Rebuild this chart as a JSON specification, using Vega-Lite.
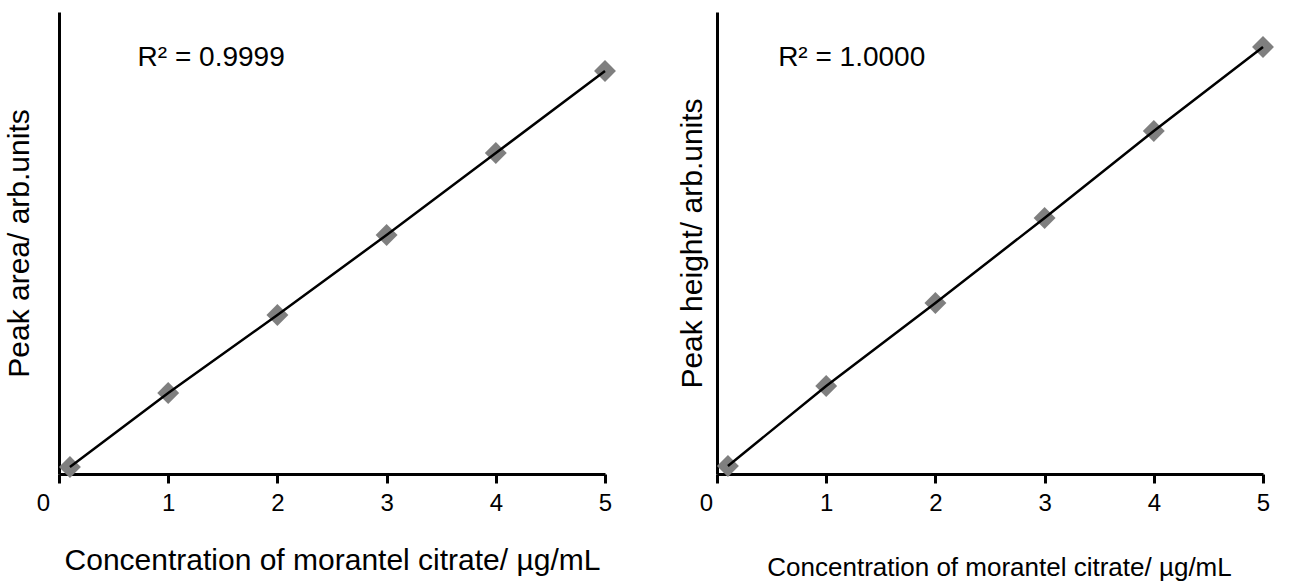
{
  "$schema": "https://vega.github.io/schema/vega-lite/v6.json",
  "background": "white",
  "padding": {"left": 4, "top": 12, "right": 5, "bottom": 5},
  "bounds": "flush",
  "spacing": 112,
  "config": {
    "view": {"stroke": null},
    "font": "Liberation Sans",
    "axis": {"grid": false, "domainColor": "black", "domainWidth": 3, "tickColor": "black", "tickWidth": 3, "tickSize": 9, "labelColor": "black", "labelFont": "Liberation Sans", "titleFont": "Liberation Sans", "titleFontWeight": "normal", "titleColor": "black", "labelFlush": false, "labelOverlap": false}
  },
  "datasets": {
    "area": [
      {"conc": 0.1, "value": 7},
      {"conc": 1, "value": 81},
      {"conc": 2, "value": 159},
      {"conc": 3, "value": 239},
      {"conc": 4, "value": 321},
      {"conc": 5, "value": 403}
    ],
    "height": [
      {"conc": 0.1, "value": 8},
      {"conc": 1, "value": 88},
      {"conc": 2, "value": 171},
      {"conc": 3, "value": 256},
      {"conc": 4, "value": 343},
      {"conc": 5, "value": 427}
    ]
  },
  "hconcat": [
    {
      "width": 546,
      "height": 462,
      "layer": [
        {
          "data": {"name": "area"},
          "mark": {"type": "point", "shape": "diamond", "filled": true, "size": 480, "color": "#7f7f7f", "opacity": 1},
          "encoding": {
            "x": {"field": "conc", "type": "quantitative", "title": "Concentration of morantel citrate/ µg/mL", "scale": {"domain": [0, 5], "nice": false, "zero": false},
              "axis": {"values": [0, 1, 2, 3, 4, 5], "format": "d", "labelFontSize": 24, "labelPadding": 8, "labelOffset": {"condition": {"test": "datum.value === 0", "value": -16}, "value": 0}, "titleFontSize": 30, "titlePadding": 30}},
            "y": {"field": "value", "type": "quantitative", "title": "Peak area/ arb.units", "scale": {"domain": [0, 462], "nice": false},
              "axis": {"labels": false, "ticks": false, "titleFontSize": 30, "titlePadding": 25}}
          }
        },
        {
          "data": {"name": "area"},
          "mark": {"type": "line", "color": "black", "strokeWidth": 2.5},
          "encoding": {
            "x": {"field": "conc", "type": "quantitative", "title": "Concentration of morantel citrate/ µg/mL"},
            "y": {"field": "value", "type": "quantitative", "title": "Peak area/ arb.units"}
          }
        },
        {
          "data": {"values": [{"label": "R² = 0.9999"}]},
          "mark": {"type": "text", "align": "left", "baseline": "middle", "fontSize": 28, "font": "Liberation Sans", "color": "black"},
          "encoding": {
            "x": {"datum": 0.72, "type": "quantitative", "title": "Concentration of morantel citrate/ µg/mL"},
            "y": {"datum": 416, "type": "quantitative", "title": "Peak area/ arb.units"},
            "text": {"field": "label", "type": "nominal"}
          }
        }
      ]
    },
    {
      "width": 546,
      "height": 462,
      "layer": [
        {
          "data": {"name": "height"},
          "mark": {"type": "point", "shape": "diamond", "filled": true, "size": 480, "color": "#7f7f7f", "opacity": 1},
          "encoding": {
            "x": {"field": "conc", "type": "quantitative", "title": "Concentration of morantel citrate/ µg/mL", "scale": {"domain": [0, 5], "nice": false, "zero": false},
              "axis": {"values": [0, 1, 2, 3, 4, 5], "format": "d", "labelFontSize": 24, "labelPadding": 8, "labelOffset": {"condition": {"test": "datum.value === 0", "value": -11}, "value": 0}, "titleFontSize": 26, "titlePadding": 39, "titleX": 282}},
            "y": {"field": "value", "type": "quantitative", "title": "Peak height/ arb.units", "scale": {"domain": [0, 462], "nice": false},
              "axis": {"labels": false, "ticks": false, "titleFontSize": 30, "titlePadding": 10}}
          }
        },
        {
          "data": {"name": "height"},
          "mark": {"type": "line", "color": "black", "strokeWidth": 2.5},
          "encoding": {
            "x": {"field": "conc", "type": "quantitative", "title": "Concentration of morantel citrate/ µg/mL"},
            "y": {"field": "value", "type": "quantitative", "title": "Peak height/ arb.units"}
          }
        },
        {
          "data": {"values": [{"label": "R² = 1.0000"}]},
          "mark": {"type": "text", "align": "left", "baseline": "middle", "fontSize": 28, "font": "Liberation Sans", "color": "black"},
          "encoding": {
            "x": {"datum": 0.56, "type": "quantitative", "title": "Concentration of morantel citrate/ µg/mL"},
            "y": {"datum": 416, "type": "quantitative", "title": "Peak height/ arb.units"},
            "text": {"field": "label", "type": "nominal"}
          }
        }
      ]
    }
  ]
}
